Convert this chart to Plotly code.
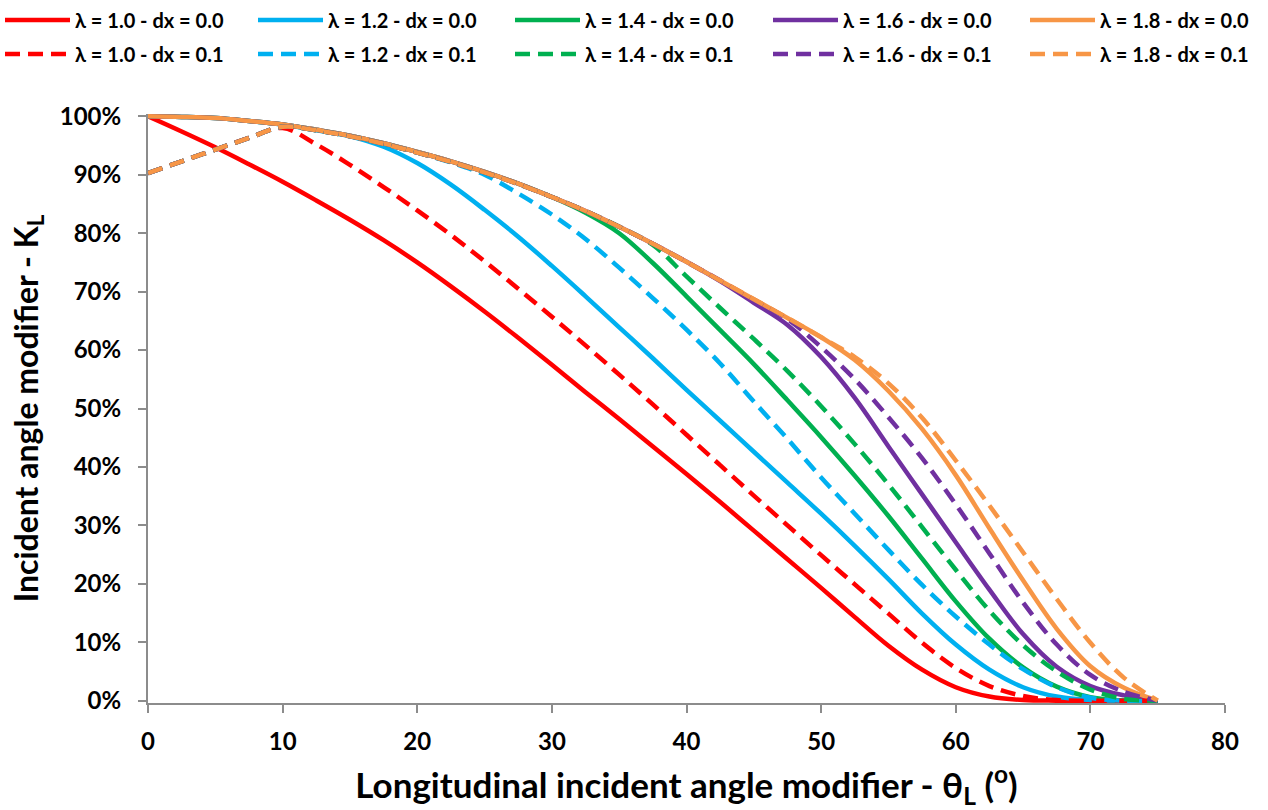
import plotly.graph_objects as go

# Longitudinal incidence angle (degrees)
theta = [0, 2.5, 5, 7.5, 10, 12.5, 15, 17.5, 20, 22.5, 25, 27.5, 30, 32.5, 35,
         37.5, 40, 42.5, 45, 47.5, 50, 52.5, 55, 57.5, 60, 62.5, 65, 67.5, 70,
         72.5, 75]

# Incident angle modifier K_L (%) for each lambda, dx = 0.0
kl_l10_dx00 = [100, 97.4, 94.7, 91.8, 88.8, 85.6, 82.3, 78.8, 75.0, 70.9, 66.6,
               62.1, 57.5, 52.8, 48.2, 43.5, 38.8, 34.0, 29.1, 24.2, 19.3, 14.3,
               9.4, 5.3, 2.3, 0.7, 0.1, 0, 0, 0, 0]
kl_l12_dx00 = [100, 99.9, 99.7, 99.2, 98.6, 97.6, 96.6, 94.8, 92.0, 88.3, 84.0,
               79.4, 74.4, 69.2, 63.9, 58.6, 53.2, 47.9, 42.6, 37.3, 32.0, 26.5,
               20.8, 14.9, 9.6, 5.3, 2.3, 0.7, 0.1, 0, 0]
kl_l14_dx00 = [100, 99.9, 99.7, 99.2, 98.6, 97.7, 96.7, 95.4, 93.9, 92.3, 90.5,
               88.5, 86.2, 83.5, 80.0, 74.9, 69.2, 63.4, 57.6, 51.4, 45.1, 38.5,
               31.6, 24.3, 17.0, 10.6, 5.7, 2.4, 0.6, 0, 0]
kl_l16_dx00 = [100, 99.9, 99.7, 99.2, 98.6, 97.7, 96.7, 95.4, 93.9, 92.3, 90.5,
               88.5, 86.2, 83.8, 81.1, 78.2, 75.1, 71.8, 68.1, 64.3, 58.8, 51.8,
               43.5, 35.3, 27.1, 19.0, 11.4, 5.8, 2.5, 0.9, 0]
kl_l18_dx00 = [100, 99.9, 99.7, 99.2, 98.6, 97.7, 96.7, 95.4, 93.9, 92.3, 90.5,
               88.5, 86.2, 83.8, 81.1, 78.2, 75.1, 71.9, 68.7, 65.5, 62.2, 58.3,
               53.0, 46.5, 38.6, 29.5, 20.6, 12.3, 5.9, 2.2, 0]

# Incident angle modifier K_L (%) for each lambda, dx = 0.1
kl_l10_dx01 = [90.3, 92.3, 94.3, 96.3, 98.0, 95.2, 91.7, 87.9, 83.9, 79.7, 75.2,
               70.5, 65.7, 60.8, 55.8, 50.7, 45.5, 40.3, 35.1, 30.0, 24.9, 19.9,
               14.9, 9.9, 5.6, 2.5, 0.8, 0.1, 0, 0, 0]
kl_l12_dx01 = [90.3, 92.3, 94.3, 96.3, 98.2, 97.6, 96.6, 95.3, 93.8, 92.1, 90.0,
               86.8, 83.2, 79.0, 74.1, 68.9, 63.5, 57.7, 51.2, 44.8, 38.2, 32.0,
               25.8, 19.8, 14.4, 9.6, 5.4, 2.3, 0.5, 0, 0]
kl_l14_dx01 = [90.3, 92.3, 94.3, 96.3, 98.2, 97.6, 96.6, 95.3, 93.8, 92.2, 90.4,
               88.4, 86.2, 83.8, 81.1, 78.0, 72.6, 67.2, 61.9, 56.4, 50.4, 43.9,
               37.0, 29.7, 22.4, 15.4, 9.5, 5.0, 1.9, 0.3, 0]
kl_l16_dx01 = [90.3, 92.3, 94.3, 96.3, 98.2, 97.6, 96.6, 95.3, 93.8, 92.2, 90.4,
               88.4, 86.2, 83.8, 81.1, 78.2, 75.1, 71.9, 68.6, 65.3, 60.5, 55.0,
               48.5, 41.5, 33.6, 25.2, 16.8, 9.6, 4.4, 1.5, 0]
kl_l18_dx01 = [90.3, 92.3, 94.3, 96.3, 98.2, 97.6, 96.6, 95.3, 93.8, 92.2, 90.4,
               88.4, 86.2, 83.8, 81.1, 78.2, 75.1, 71.9, 68.7, 65.5, 62.2, 58.8,
               54.3, 48.4, 41.1, 33.4, 25.4, 17.4, 9.9, 3.9, 0]

lambdas = ["1.0", "1.2", "1.4", "1.6", "1.8"]
colors = ["#FF0000", "#00B0F0", "#00B050", "#7030A0", "#F79646"]
series_dx00 = [kl_l10_dx00, kl_l12_dx00, kl_l14_dx00, kl_l16_dx00, kl_l18_dx00]
series_dx01 = [kl_l10_dx01, kl_l12_dx01, kl_l14_dx01, kl_l16_dx01, kl_l18_dx01]

FONT = "Lato"
AXIS_GREY = "#8C8C8C"
LINE_W = 4.5
W, H = 1268, 810

# legend grid: one small legend per entry, 5 columns x 2 rows
COL_LEFT_PX = [0, 258, 515, 773, 1030]
ROW_MID_PX = [20, 54]

fig = go.Figure()
legend_layouts = {}


def add_series(vals, name, color, dash, col, row):
    idx = row * 5 + col + 1
    key = "legend" if idx == 1 else f"legend{idx}"
    fig.add_trace(go.Scatter(
        x=theta, y=[v / 100 for v in vals], mode="lines",
        name=name, legend=key, showlegend=True,
        line=dict(color=color, width=LINE_W, dash=dash,
                  shape="spline", smoothing=1.0),
    ))
    legend_layouts[key] = dict(
        xref="container", yref="container",
        x=(COL_LEFT_PX[col] - 5) / W, xanchor="left",
        y=1 - ROW_MID_PX[row] / H, yanchor="middle",
        orientation="h", itemwidth=65,
        font=dict(family=FONT, size=20, color="black", weight="bold"),
        bgcolor="rgba(0,0,0,0)", borderwidth=0,
    )


for i, (lam, col, vals) in enumerate(zip(lambdas, colors, series_dx00)):
    add_series(vals, f"λ = {lam} - dx = 0.0", col, "solid", i, 0)

for i, (lam, col, vals) in enumerate(zip(lambdas, colors, series_dx01)):
    add_series(vals, f"λ = {lam} - dx = 0.1", col, "15px,8px", i, 1)

fig.update_layout(
    width=W, height=H, showlegend=True,
    margin=dict(l=148, r=43, t=114, b=107, autoexpand=False),
    paper_bgcolor="white", plot_bgcolor="white",
    font=dict(family=FONT, color="black"),
    xaxis=dict(
        range=[0, 80], tickmode="linear", tick0=0, dtick=10,
        showgrid=False, zeroline=False,
        showline=True, linecolor=AXIS_GREY, linewidth=2,
        ticks="outside", ticklen=8, tickwidth=2, tickcolor=AXIS_GREY,
        ticklabelstandoff=8,
        tickfont=dict(family=FONT, size=24, color="black", weight="bold"),
        title=dict(
            text="Longitudinal incident angle modifier - θ<sub>L</sub> (<sup>o</sup>)",
            font=dict(family=FONT, size=35, color="black", weight="bold"),
            standoff=20,
        ),
    ),
    yaxis=dict(
        range=[-0.004, 1.004], tickmode="linear", tick0=0, dtick=0.1,
        tickformat=".0%",
        showgrid=False, zeroline=False,
        showline=True, linecolor=AXIS_GREY, linewidth=2,
        ticks="outside", ticklen=8, tickwidth=2, tickcolor=AXIS_GREY,
        ticklabelstandoff=12,
        tickfont=dict(family=FONT, size=24, color="black", weight="bold"),
        title=dict(
            text="Incident angle modifier - K<sub>L</sub>",
            font=dict(family=FONT, size=32, color="black", weight="bold"),
            standoff=12,
        ),
    ),
    **legend_layouts,
)

fig.write_html("out.html")
